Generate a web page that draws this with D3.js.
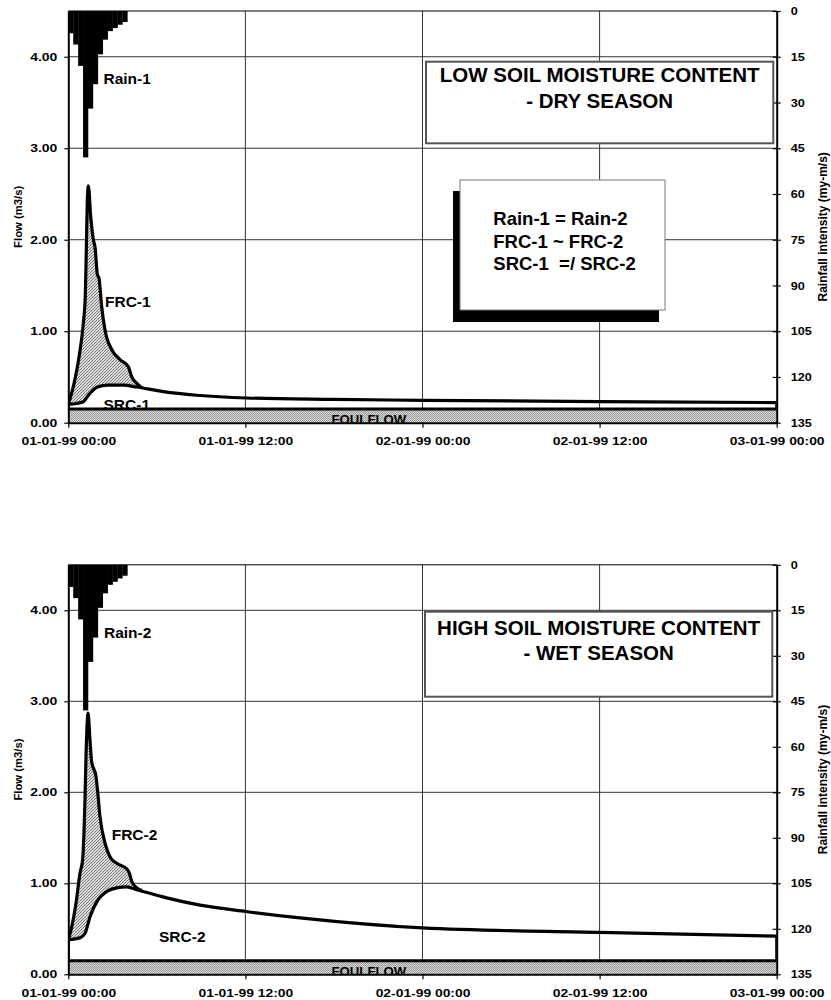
<!DOCTYPE html>
<html>
<head>
<meta charset="utf-8">
<script src="https://cdn.jsdelivr.net/npm/d3@7"></script>
<style>
  body { margin: 0; background: #fff; }
  svg { font-family: "Liberation Sans", Arial, Helvetica, sans-serif; font-weight: bold; }
</style>
</head>
<body>
<svg width="831" height="1000"></svg>
<script>
// rain is the same storm in both runs, 20 minute blocks, hours from start
var rainHours  = [0, 0.333, 0.667, 1, 1.333, 1.667, 2, 2.333, 2.667, 3, 3.333, 3.667];
var rainValues = [7.3, 11, 18, 48, 32, 24, 14.2, 9.4, 6.6, 5.6, 4.5, 3.6];

// dry season (run 1)
var frc1Hours = [0, 0.39, 0.73, 1.02, 1.15, 1.22, 1.29, 1.36, 1.52, 1.70, 1.81, 1.97, 2.08, 2.26, 2.49, 2.94, 3.5, 4.07, 4.3, 4.64, 5.0];
var frc1Flow  = [0.2, 0.43, 0.72, 1.09, 1.38, 1.89, 2.44, 2.59, 2.25, 2.0, 1.92, 1.62, 1.58, 1.27, 1.01, 0.80, 0.69, 0.61, 0.50, 0.43, 0.38];
var src1Hours = [0, 1.02, 1.36, 1.97, 2.65, 3.78, 4.63, 6.44, 8.7, 12.1, 18, 24, 36, 48];
var src1Flow  = [0.2, 0.23, 0.30, 0.39, 0.41, 0.41, 0.39, 0.34, 0.30, 0.27, 0.255, 0.245, 0.23, 0.22];

// wet season (run 2)
var frc2Hours = [0, 0.23, 0.52, 0.79, 0.97, 1.06, 1.13, 1.2, 1.34, 1.47, 1.58, 1.88, 1.97, 2.15, 2.49, 2.83, 3.28, 3.96, 4.14, 4.3, 4.64, 5.0];
var frc2Flow  = [0.38, 0.52, 0.78, 1.11, 1.26, 1.55, 1.92, 2.4, 2.87, 2.57, 2.34, 2.17, 2.04, 1.73, 1.44, 1.29, 1.22, 1.16, 1.11, 1.02, 0.95, 0.92];
var src2Hours = [0, 0.79, 1.13, 1.47, 2.02, 2.6, 3.28, 3.96, 4.64, 6.67, 8.93, 12.03, 15.7, 24, 36, 48];
var src2Flow  = [0.38, 0.40, 0.45, 0.63, 0.82, 0.91, 0.95, 0.96, 0.93, 0.84, 0.76, 0.69, 0.62, 0.51, 0.46, 0.42];

// foul (dry weather) flow, constant
var foulHours = [0, 48];
var foulFlow  = [0.15, 0.15];

var flowTicks = [0, 1, 2, 3, 4];
var rainTicks = [0, 15, 30, 45, 60, 75, 90, 105, 120, 135];
var legendLines = ["Rain-1 = Rain-2", "FRC-1 ~ FRC-2", "SRC-1  =/ SRC-2"];

var svg = d3.select("svg");
var t0 = new Date(1999, 0, 1, 0, 0);
var t1 = new Date(1999, 0, 3, 0, 0);
var left = 68.3, right = 776.7;

function hrs(h) { return new Date(t0.getTime() + h * 3600000); }
function zip(hs, vs) { return hs.map(function(h, i) { return { t: hrs(h), v: vs[i] }; }); }

var x = d3.scaleTime().domain([t0, t1]).range([left, right]);

// patterns for the hatched fills
var defs = svg.append("defs");
var hatch = defs.append("pattern").attr("id", "hatch")
    .attr("width", 3).attr("height", 3).attr("patternUnits", "userSpaceOnUse");
hatch.append("rect").attr("width", 3).attr("height", 3).attr("fill", "#dcdcdc");
hatch.append("path").attr("d", "M0,3 L3,0").attr("stroke", "#7a7a7a").attr("stroke-width", 1);
var dots = defs.append("pattern").attr("id", "dots")
    .attr("width", 2).attr("height", 2).attr("patternUnits", "userSpaceOnUse");
dots.append("rect").attr("width", 2).attr("height", 2).attr("fill", "#d8d8d8");
dots.append("rect").attr("width", 1).attr("height", 1).attr("fill", "#9a9a9a");
dots.append("rect").attr("x", 1).attr("y", 1).attr("width", 1).attr("height", 1).attr("fill", "#9a9a9a");

// stretch tick text sideways, the original labels are wide
function stretch(g, s) {
  g.selectAll(".tick text").each(function() {
    var t = d3.select(this);
    var tx = +t.attr("x") || 0, ty = +t.attr("y") || 0;
    t.attr("transform", "translate(" + tx + "," + ty + ") scale(" + s + ",1)")
     .attr("x", 0).attr("y", 0);
  });
}

var panels = [
  { top: 11, bottom: 422.7, frcH: frc1Hours, frc: frc1Flow, srcH: src1Hours, src: src1Flow, n: "1",
    box: [426, 61.7, 773.3, 143.3], title: ["LOW SOIL MOISTURE CONTENT", "- DRY SEASON"], titleY: [82, 108],
    rainLbl: [103.5, 84.3], frcLbl: [105, 306.7], srcLbl: [103.5, 409.5], legend: true },
  { top: 564.8, bottom: 974.3, frcH: frc2Hours, frc: frc2Flow, srcH: src2Hours, src: src2Flow, n: "2",
    box: [425, 611.7, 772.3, 696.7], title: ["HIGH SOIL MOISTURE CONTENT", "- WET SEASON"], titleY: [635, 660],
    rainLbl: [104, 637.7], frcLbl: [111.7, 840], srcLbl: [159, 941.7], legend: false }
];

panels.forEach(function(p, pi) {
  var y = d3.scaleLinear().domain([0, 4.5]).range([p.bottom, p.top]);
  var yr = d3.scaleLinear().domain([0, 135]).range([p.top, p.bottom]);
  var g = svg.append("g");

  var clipId = "clip" + pi;
  defs.append("clipPath").attr("id", clipId).append("rect")
      .attr("x", left).attr("y", p.top).attr("width", right - left).attr("height", p.bottom - p.top);

  // grid
  g.append("g").selectAll("line").data(flowTicks.slice(1)).enter().append("line")
      .attr("x1", left).attr("x2", right).attr("y1", y).attr("y2", y)
      .attr("stroke", "#333").attr("stroke-width", 1);
  g.append("g").selectAll("line").data(x.ticks(d3.timeHour.every(12)).slice(1, -1)).enter().append("line")
      .attr("x1", x).attr("x2", x).attr("y1", p.top).attr("y2", p.bottom)
      .attr("stroke", "#333").attr("stroke-width", 1);
  g.append("line").attr("x1", left).attr("x2", right).attr("y1", p.top).attr("y2", p.top)
      .attr("stroke", "#000").attr("stroke-width", 1);

  var plot = g.append("g").attr("clip-path", "url(#" + clipId + ")");

  var frcData = zip(p.frcH, p.frc);
  var srcData = zip(p.srcH, p.src);
  var foulData = zip(foulHours, foulFlow);
  var srcAt = d3.scaleLinear().domain(p.srcH).range(p.src); // piecewise, only for the fill edge

  // shaded fast response part between FRC and SRC
  var fill = d3.area()
      .x(function(d) { return x(d.t); })
      .y0(function(d) { return y(srcAt((d.t - t0) / 3600000)); })
      .y1(function(d) { return y(d.v); })
      .curve(d3.curveMonotoneX);
  plot.append("path").datum(frcData).attr("d", fill).attr("fill", "url(#hatch)");

  // rain bars hang from the top
  var rain = zip(rainHours, rainValues);
  plot.append("g").selectAll("rect").data(rain).enter().append("rect")
      .attr("x", function(d) { return x(d.t); })
      .attr("width", function(d) { return x(new Date(d.t.getTime() + 20 * 60000)) - x(d.t) + 0.3; })
      .attr("y", p.top)
      .attr("height", function(d) { return yr(d.v) - p.top; })
      .attr("fill", "#000");

  // SRC label sits under the foulflow band (gets cut in the dry one)
  plot.append("text").attr("x", p.srcLbl[0]).attr("y", p.srcLbl[1])
      .attr("font-size", 15.5).text("SRC-" + p.n);

  // foulflow band
  var foulArea = d3.area().x(function(d) { return x(d.t); })
      .y0(p.bottom).y1(function(d) { return y(d.v); });
  plot.append("path").datum(foulData).attr("d", foulArea).attr("fill", "url(#dots)");
  var flat = d3.line().x(function(d) { return x(d.t); }).y(function(d) { return y(d.v); });
  plot.append("path").datum(foulData).attr("d", flat)
      .attr("fill", "none").attr("stroke", "#000").attr("stroke-width", 3);
  plot.append("text").attr("x", 331.5).attr("y", p.bottom + 1.5)
      .attr("font-size", 13.2).text("FOULFLOW");

  // curves
  var line = d3.line().x(function(d) { return x(d.t); }).y(function(d) { return y(d.v); })
      .curve(d3.curveMonotoneX);
  plot.append("path").datum(srcData).attr("d", line)
      .attr("fill", "none").attr("stroke", "#000").attr("stroke-width", 3.2).attr("stroke-linejoin", "round");
  plot.append("path").datum(frcData).attr("d", line)
      .attr("fill", "none").attr("stroke", "#000").attr("stroke-width", 3.2).attr("stroke-linejoin", "round");
  // closing edges of the SRC area down to foulflow
  [[srcData[0], foulData[0]], [srcData[srcData.length - 1], foulData[1]]].forEach(function(e) {
    plot.append("line").attr("x1", x(e[0].t)).attr("x2", x(e[0].t))
        .attr("y1", y(e[0].v)).attr("y2", y(e[1].v))
        .attr("stroke", "#000").attr("stroke-width", 3);
  });

  // axes
  var ax = g.append("g").attr("transform", "translate(" + left + ",0)")
      .call(d3.axisLeft(y).tickValues(flowTicks).tickFormat(d3.format(".2f")).tickSize(4).tickSizeOuter(0).tickPadding(7));
  var ar = g.append("g").attr("transform", "translate(" + right + ",0)")
      .call(d3.axisRight(yr).tickValues(rainTicks).tickSize(4).tickSizeOuter(0).tickPadding(10));
  ar.selectAll(".tick line").attr("x1", -4);
  var ab = g.append("g").attr("transform", "translate(0," + p.bottom + ")")
      .call(d3.axisBottom(x).ticks(d3.timeHour.every(12)).tickFormat(d3.timeFormat("%d-%m-%y %H:%M"))
        .tickSize(5).tickSizeOuter(0).tickPadding(10));
  [ax, ar, ab].forEach(function(a) {
    a.select(".domain").attr("stroke-width", 2);
    a.selectAll(".tick line").attr("stroke-width", 1.2);
    a.selectAll("text").attr("font-size", 10.5).attr("font-weight", "bold").attr("font-family", null);
  });
  ax.selectAll("text").attr("font-size", 11);
  ar.selectAll("text").attr("font-size", 11.5);
  stretch(ax, 1.27);
  stretch(ar, 1.1);
  stretch(ab, 1.32);

  // axis titles
  g.append("text").attr("transform", "translate(22," + (p.top + p.bottom) / 2 + ") rotate(-90)")
      .attr("text-anchor", "middle").attr("font-size", 11.3).text("Flow (m3/s)");
  g.append("text").attr("transform", "translate(827," + ((p.top + p.bottom) / 2 + 10) + ") rotate(-90)")
      .attr("text-anchor", "middle").attr("font-size", 12).text("Rainfall intensity (my-m/s)");

  // series labels
  g.append("text").attr("x", p.rainLbl[0]).attr("y", p.rainLbl[1]).attr("font-size", 15.5).text("Rain-" + p.n);
  g.append("text").attr("x", p.frcLbl[0]).attr("y", p.frcLbl[1]).attr("font-size", 15.5).text("FRC-" + p.n);

  // title box
  var b = p.box;
  g.append("rect").attr("x", b[0]).attr("y", b[1]).attr("width", b[2] - b[0]).attr("height", b[3] - b[1])
      .attr("fill", "#fff").attr("stroke", "#555").attr("stroke-width", 2);
  p.title.forEach(function(s, i) {
    g.append("text").attr("x", (b[0] + b[2]) / 2).attr("y", p.titleY[i])
        .attr("text-anchor", "middle").attr("font-size", 20.5).text(s);
  });

  // comparison note, dry panel only
  if (p.legend) {
    g.append("rect").attr("x", 453).attr("y", 191).attr("width", 206).attr("height", 131).attr("fill", "#000");
    g.append("rect").attr("x", 460).attr("y", 180).attr("width", 205).attr("height", 130)
        .attr("fill", "#fff").attr("stroke", "#777").attr("stroke-width", 1);
    legendLines.forEach(function(s, i) {
      g.append("text").attr("x", 493.3).attr("y", 225 + i * 22.5).attr("font-size", 18.5)
          .attr("xml:space", "preserve").style("white-space", "pre").text(s);
    });
  }
});
</script>
</body>
</html>
